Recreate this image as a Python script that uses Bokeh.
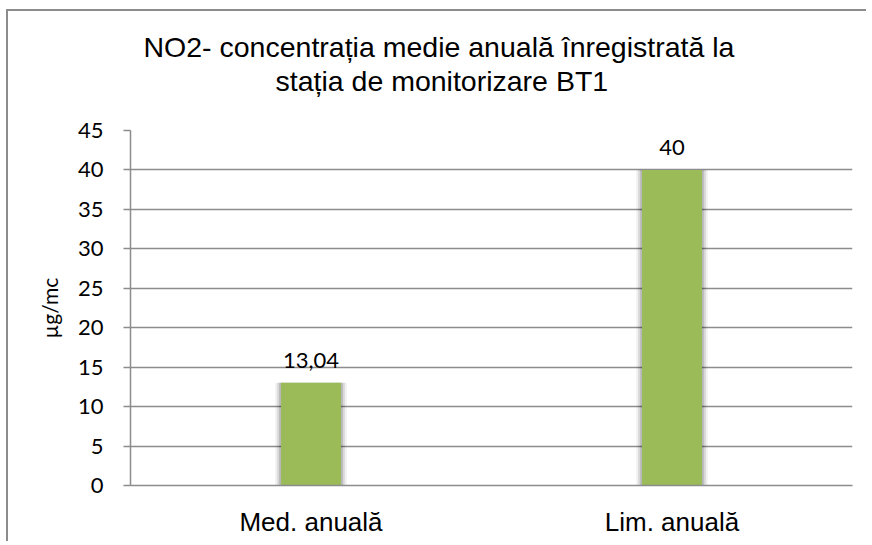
from bokeh.plotting import figure
from bokeh.models import Range1d, FactorRange, Title, LabelSet, ColumnDataSource, FixedTicker, InlineStyleSheet
from bokeh.core.properties import value
from bokeh.embed import file_html
from bokeh.resources import INLINE

categories = ["Med. anuală", "Lim. anuală"]
values = [13.04, 40]
value_labels = ["13,04", "40"]
y_ticks = [0, 5, 10, 15, 20, 25, 30, 35, 40, 45]
title_lines = ["NO2- concentrația medie anuală înregistrată  la", "stația de monitorizare BT1"]
y_label = "µg/mc"

GRID = "#8c8c8c"
BAR = "#9BBB59"

src = ColumnDataSource(dict(cat=categories, val=values, lbl=value_labels))

p = figure(width=860, height=532, title=None,
           x_range=FactorRange(*categories, range_padding=0),
           y_range=Range1d(0, 45),
           output_backend="svg", toolbar_location=None,
           min_border_left=122, min_border_top=119,
           min_border_right=16, min_border_bottom=58)
p.margin = (11, 0, 0, 8)
p.stylesheets = [InlineStyleSheet(css=":host { box-shadow: -2px -2px 0px 0px #8c8c8c; }")]
p.outline_line_color = None
p.background_fill_color = "white"
p.border_fill_color = "white"

p.xgrid.grid_line_color = None
p.ygrid.ticker = FixedTicker(ticks=y_ticks)
p.ygrid.grid_line_color = GRID
p.ygrid.grid_line_width = 1.5

ya = p.yaxis[0]
ya.ticker = FixedTicker(ticks=y_ticks)
ya.axis_line_color = GRID
ya.axis_line_width = 1.5
ya.major_tick_line_color = GRID
ya.major_tick_line_width = 1.5
ya.major_tick_out = 7
ya.major_tick_in = 0
ya.minor_tick_line_color = None
ya.major_label_text_font = "Lato"
ya.major_label_text_font_size = "22px"
ya.major_label_text_color = "black"
ya.major_label_standoff = 20
ya.axis_label = y_label
ya.axis_label_text_font = "Lato"
ya.axis_label_text_font_size = "21px"
ya.axis_label_text_font_style = "normal"
ya.axis_label_text_color = "black"
ya.axis_label_standoff = 13

xa = p.xaxis[0]
xa.axis_line_color = GRID
xa.axis_line_width = 1.5
xa.major_tick_line_color = None
xa.major_tick_out = 0
xa.major_tick_in = 0
xa.minor_tick_line_color = None
xa.major_label_text_font = "Liberation Sans"
xa.major_label_text_font_size = "26px"
xa.major_label_text_color = "black"
xa.major_label_standoff = 21

# soft shadow layers
for w, a in [(0.198, 0.06), (0.187, 0.10), (0.176, 0.15)]:
    p.vbar(x="cat", top="val", bottom=0, width=w, source=src,
           fill_color="black", fill_alpha=a, line_color=None)
p.vbar(x="cat", top="val", bottom=0, width=0.166, source=src,
       fill_color=BAR, line_color=None)

p.add_layout(LabelSet(x="cat", y="val", text="lbl", source=src,
                      text_align="center", text_baseline="alphabetic",
                      y_offset=15, text_font=value("Lato"), text_font_size=value("22px"),
                      text_color="black"))

# spacer between frame and title block
p.add_layout(Title(text=" ", text_font_size="1px", standoff=31), "above")
# title: second line nearest the frame, first line above it
for txt, off in [(title_lines[1], 145), (title_lines[0], 13)]:
    p.add_layout(Title(text=txt, align="left", offset=off,
                       text_font="Liberation Sans", text_font_size="28.5px",
                       text_font_style="normal", text_color="black",
                       standoff=0), "above")

open("out.html", "w").write(file_html(p, INLINE))
